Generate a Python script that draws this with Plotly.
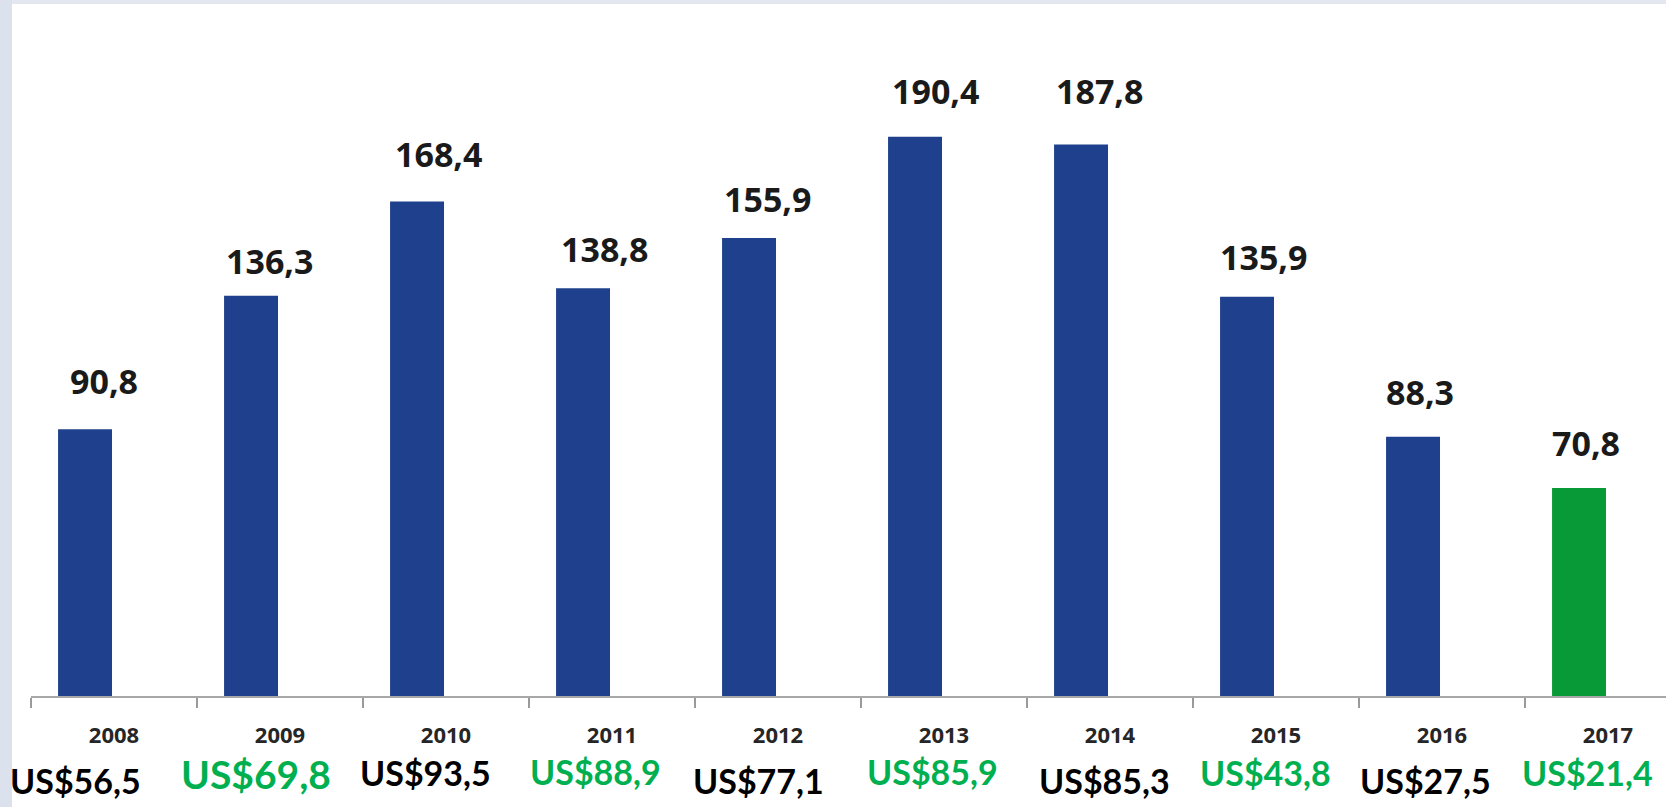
import plotly.graph_objects as go

# ---- data ----
years = ["2008", "2009", "2010", "2011", "2012", "2013", "2014", "2015", "2016", "2017"]
values = [90.8, 136.3, 168.4, 138.8, 155.9, 190.4, 187.8, 135.9, 88.3, 70.8]
usd_values = [56.5, 69.8, 93.5, 88.9, 77.1, 85.9, 85.3, 43.8, 27.5, 21.4]

# ---- style ----
BLUE = "#1f408c"
GREEN_BAR = "#079a36"
GREEN_TXT = "#00b050"
bar_colors = [BLUE] * 9 + [GREEN_BAR]
usd_colors = ["#000000", GREEN_TXT] * 5
usd_sizes = [34, 39, 34, 34, 34, 34, 34, 34, 34, 34]
usd_xshift = [-39, -24, -21, -17, -20, -12, -6, -11, -17, -21]
usd_ypix = [780, 774, 772, 771, 780, 771, 780, 772, 780, 772]
val_xshift = [10, 0, 3, 3, 0, 2, 0, -2, -2, -2]
val_yshift = [48, 35, 47, 39, 39, 46, 53, 40, 45, 45]

BAR_OFFSET, BAR_WIDTH = -0.337, 0.325

W, H = 1666, 807
ML, MT, MB = 31, 4, 111
PW = W - ML
PH = H - MT - MB
PX_PER_UNIT = 2.937
ymax = PH / PX_PER_UNIT

def fmt(v):
    return f"{v:.1f}".replace(".", ",")

fig = go.Figure()
fig.add_trace(go.Bar(
    x=years, y=values,
    marker=dict(color=bar_colors, line=dict(width=0)),
    offset=BAR_OFFSET, width=BAR_WIDTH,
    hoverinfo="skip", showlegend=False,
))

annotations = []
for i, v in enumerate(values):
    annotations.append(dict(
        x=i + BAR_OFFSET, y=v, xref="x", yref="y", text="<b>" + fmt(v) + "</b>", showarrow=False,
        xanchor="left", yanchor="middle",
        xshift=val_xshift[i], yshift=val_yshift[i],
        font=dict(family="Open Sans", size=34, color="#1a1a1a"),
    ))
for i, u in enumerate(usd_values):
    annotations.append(dict(
        x=i, y=0, xref="x", yref="paper", text="<b>US$" + fmt(u) + "</b>", showarrow=False,
        xanchor="center", yanchor="middle",
        xshift=usd_xshift[i], yshift=-(usd_ypix[i] - (H - MB)),
        font=dict(family="Lato", size=usd_sizes[i], color=usd_colors[i]),
    ))

shapes = [
    dict(type="rect", xref="paper", yref="paper",
         x0=-ML / PW, x1=1.0, y0=1.0, y1=1 + MT / PH,
         fillcolor="#e3e8f0", line=dict(width=0), layer="below"),
    dict(type="rect", xref="paper", yref="paper",
         x0=-ML / PW, x1=(12 - ML) / PW, y0=-MB / PH, y1=1 + MT / PH,
         fillcolor="#dbe2ed", line=dict(width=0), layer="below"),
]

fig.update_layout(
    width=W, height=H,
    margin=dict(l=ML, r=0, t=MT, b=MB, pad=0),
    paper_bgcolor="white", plot_bgcolor="white",
    annotations=annotations, shapes=shapes,
    xaxis=dict(
        type="category", range=[-0.5, -0.5 + PW / 166.0],
        tickson="boundaries", ticks="outside", ticklen=10, tickwidth=2,
        tickcolor="#9a9a9a", showline=True, linecolor="#a8a8a8", linewidth=2,
        showgrid=False, zeroline=False,
        tickfont=dict(family="Open Sans", size=22, color="#262626", weight="bold"),
        ticklabelstandoff=19,
    ),
    yaxis=dict(visible=False, range=[0, ymax], fixedrange=True),
)

fig.write_html("out.html", config={"displayModeBar": False},
               post_script="document.body.style.margin='0';document.body.style.padding='0';")
